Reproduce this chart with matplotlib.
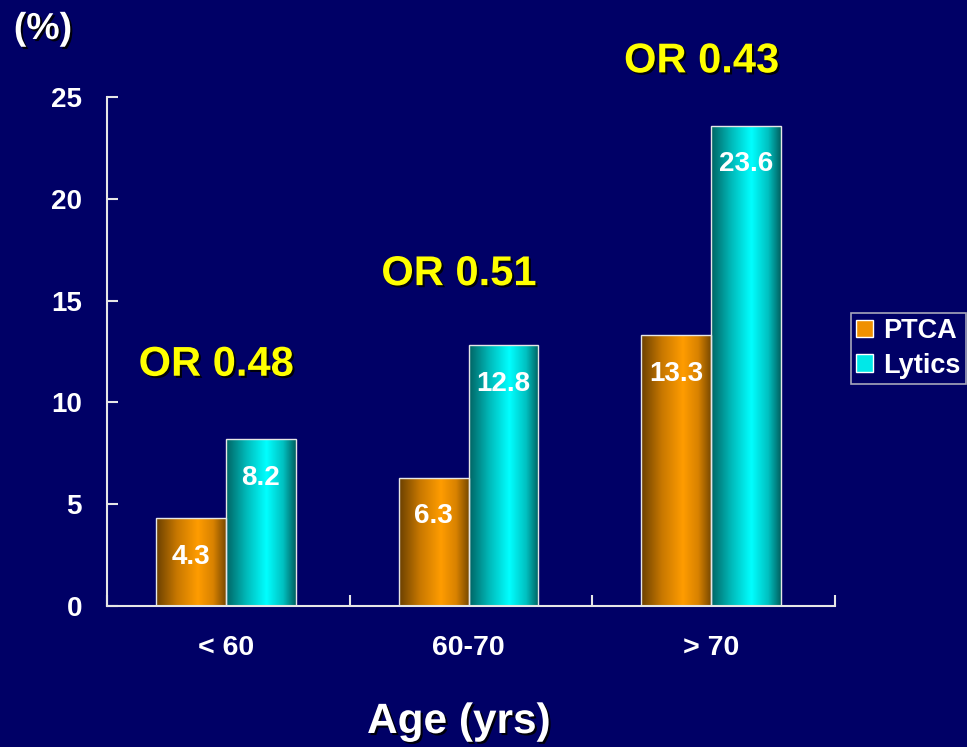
import numpy as np
import matplotlib
matplotlib.use("Agg")
import matplotlib.pyplot as plt
import matplotlib.patheffects as pe
from matplotlib.colors import LinearSegmentedColormap
from matplotlib.patches import Patch

# Data
categories = ["< 60", "60-70", "> 70"]
ptca = [4.3, 6.3, 13.3]
lytics = [8.2, 12.8, 23.6]
odds_ratios = ["OR 0.48", "OR 0.51", "OR 0.43"]
or_label_y = [11.85, 16.3, 26.75]
series_names = ["PTCA", "Lytics"]
yticks = [0, 5, 10, 15, 20, 25]

BG = "#000066"
LINE = "#e6e6e6"
plt.rcParams["font.family"] = ["Liberation Sans", "DejaVu Sans"]
plt.rcParams["font.weight"] = "bold"

fig = plt.figure(figsize=(9.67, 7.47), dpi=100, facecolor=BG)
ax = fig.add_axes([107 / 967, 1 - 606 / 747, 728 / 967, 509 / 747])
ax.set_facecolor(BG)

orange_cmap = LinearSegmentedColormap.from_list(
    "cyl_orange",
    [(0, "#6a4000"), (0.3, "#c87800"), (0.6, "#ff9c00"), (0.82, "#d88200"), (1, "#7a4a00")])
cyan_cmap = LinearSegmentedColormap.from_list(
    "cyl_cyan",
    [(0, "#006464"), (0.3, "#00bcbc"), (0.58, "#00ffff"), (0.82, "#00c0c0"), (1, "#006060")])

centers = np.arange(len(categories)) + 0.49
width = 0.288

bars_p = ax.bar(centers - width / 2, ptca, width, facecolor="none",
                edgecolor=LINE, linewidth=1.0, zorder=3)
bars_l = ax.bar(centers + width / 2, lytics, width, facecolor="none",
                edgecolor=LINE, linewidth=1.0, zorder=3)

grad = np.linspace(0, 1, 256)[np.newaxis, :]
for bars, cmap in ((bars_p, orange_cmap), (bars_l, cyan_cmap)):
    for rect in bars:
        x0, y0 = rect.get_x(), rect.get_y()
        w, h = rect.get_width(), rect.get_height()
        im = ax.imshow(grad, cmap=cmap, extent=[x0, x0 + w, y0, y0 + h],
                       aspect="auto", zorder=2, interpolation="bilinear")
        im.set_clip_path(rect)

# Value labels inside bars
for bars, vals in ((bars_p, ptca), (bars_l, lytics)):
    for rect, v in zip(bars, vals):
        ax.text(rect.get_x() + rect.get_width() / 2, v - 1.9, f"{v:.1f}",
                ha="center", va="center", color="white", fontsize=20,
                fontweight="bold", zorder=4)

# Odds ratio labels
shadow = [pe.SimplePatchShadow(offset=(1.5, -1.5), shadow_rgbFace="black", alpha=0.9),
          pe.Normal()]
for c, txt, y in zip(centers, odds_ratios, or_label_y):
    ax.text(c - 0.04, y, txt, ha="center", va="center", color="#ffff00",
            fontsize=30, fontweight="bold", path_effects=shadow, clip_on=False)

ax.set_xlim(0, len(categories))
ax.set_ylim(0, 25)

# Axes styling
for s in ("top", "right"):
    ax.spines[s].set_visible(False)
for s in ("left", "bottom"):
    ax.spines[s].set_color(LINE)
    ax.spines[s].set_linewidth(1.5)

ax.set_yticks(yticks)
ax.set_yticklabels([str(t) for t in yticks])
ax.tick_params(axis="y", direction="in", length=8, width=1.5, color=LINE,
               labelcolor="white", labelsize=20, pad=18)

ax.set_xticks(np.arange(len(categories) + 1))
ax.set_xticklabels([])
ax.tick_params(axis="x", which="major", direction="in", length=8, width=1.5, color=LINE)
ax.set_xticks(centers, minor=True)
ax.set_xticklabels(categories, minor=True)
ax.tick_params(axis="x", which="minor", length=0, labelcolor="white",
               labelsize=20.5, pad=21)
for lbl in ax.get_xticklabels(minor=True) + ax.get_yticklabels():
    lbl.set_fontweight("bold")

# Titles
fig.text(43 / 967, 1 - 29 / 747, "(%)", ha="center", va="center", color="white",
         fontsize=27, fontweight="bold", path_effects=shadow)
fig.text(459 / 967, 1 - 722 / 747, "Age (yrs)", ha="center", va="center",
         color="white", fontsize=30.5, fontweight="bold", path_effects=shadow)

# Legend
handles = [Patch(facecolor="#f09000", edgecolor="white", linewidth=1.0),
           Patch(facecolor="#00e8e8", edgecolor="white", linewidth=1.0)]
leg = fig.legend(handles, series_names, loc="upper left",
                 bbox_to_anchor=(851 / 967, 1 - 313 / 747),
                 frameon=True, fancybox=False, fontsize=19.5,
                 handlelength=0.6, handleheight=0.6, handletextpad=0.4,
                 borderpad=0.2, labelspacing=0.3, borderaxespad=0)
leg.get_frame().set_facecolor(BG)
leg.get_frame().set_edgecolor("#d0d0d0")
leg.get_frame().set_linewidth(1.2)
for t in leg.get_texts():
    t.set_color("white")
    t.set_fontweight("bold")

fig.savefig("out.png", dpi=100, facecolor=BG)
